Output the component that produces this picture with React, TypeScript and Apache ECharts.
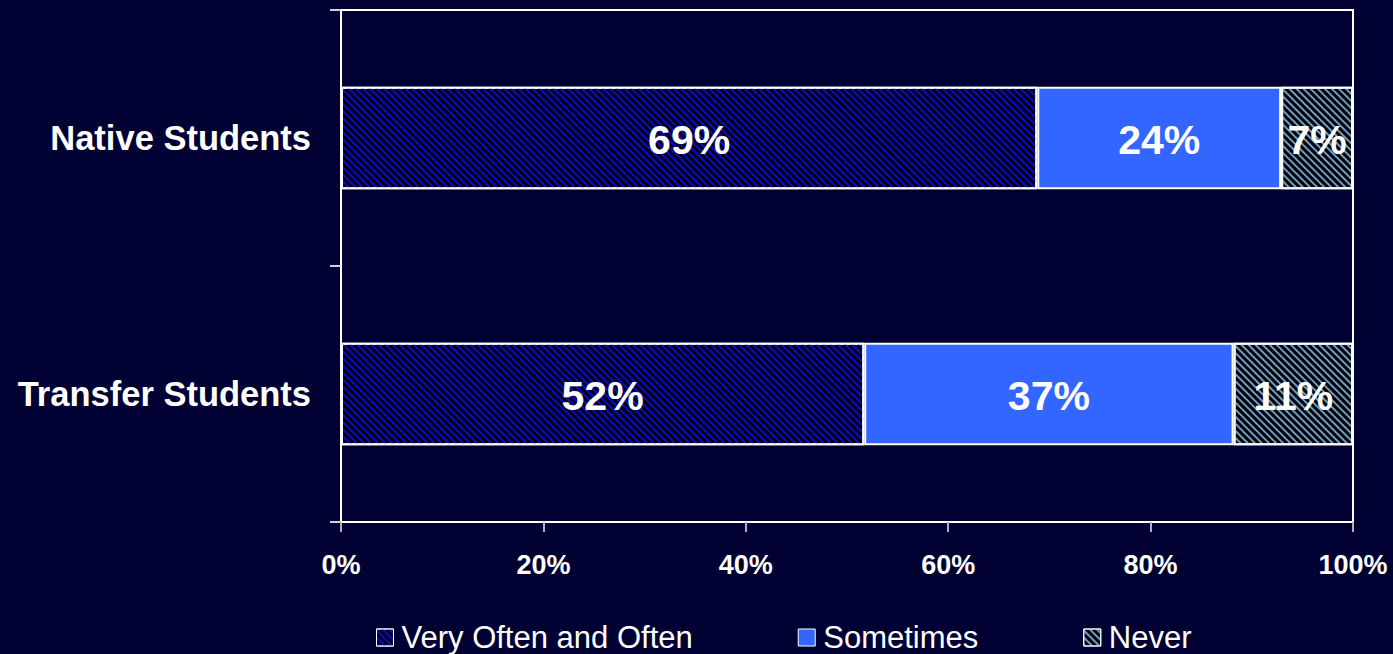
import React, { useEffect, useRef } from "react";
import * as echarts from "echarts";

const categories = ["Native Students", "Transfer Students"];
const seriesNames = ["Very Often and Often", "Sometimes", "Never"];
// measured segment widths (percent of row)
const veryOften = [68.8, 51.7];
const sometimes = [24.1, 36.5];
const never = [7.1, 11.8];
// printed labels
const veryOftenLabels = ["69%", "52%"];
const sometimesLabels = ["24%", "37%"];
const neverLabels = ["7%", "11%"];
const xTicks = [0, 20, 40, 60, 80, 100];

const BG = "#000033";
const FONT = "Arial, 'Liberation Sans', Helvetica, sans-serif";

export default function App() {
  const ref = useRef<HTMLDivElement>(null);
  useEffect(() => {
    if (!ref.current) return;
    const chart = echarts.init(ref.current, undefined, { renderer: "svg" });
    const mkLabel = (labels: string[]) => ({
      show: true,
      position: "inside",
      color: "#ffffff",
      fontFamily: FONT,
      fontWeight: "bold",
      fontSize: 41,
      offset: [0, 2],
      formatter: (p: any) => labels[p.dataIndex],
    });
    const stripe = (color: string, gap: number) => ({
      symbol: "rect",
      symbolSize: 1,
      color,
      dashArrayX: [1, 0],
      dashArrayY: [2, gap],
      rotation: Math.PI / 4,
    });
    const voStyle = {
      color: "#000010",
      borderColor: "#ffffff",
      borderWidth: 2,
      decal: stripe("#0a0ad0", 3),
    };
    const sStyle = { color: "#3366ff", borderColor: "#ffffff", borderWidth: 2 };
    const nStyle = {
      color: "#000000",
      borderColor: "#ffffff",
      borderWidth: 2,
      decal: stripe("#6d9cc6", 3),
    };
    chart.setOption({
      animation: false,
      backgroundColor: BG,
      grid: {
        left: 341,
        right: 40,
        top: 10,
        bottom: 132,
        show: true,
        borderColor: "#ffffff",
        borderWidth: 2,
        backgroundColor: "transparent",
      },
      legend: {
        left: 371,
        bottom: -4,
        icon: "rect",
        itemWidth: 17,
        itemHeight: 17,
        itemGap: 105,
        textStyle: {
          color: "#ffffff",
          fontFamily: FONT,
          fontSize: 31,
          padding: [0, 0, 0, 3],
        },
        data: [
          { name: seriesNames[0], itemStyle: { ...voStyle, borderWidth: 1 } },
          { name: seriesNames[1], itemStyle: { ...sStyle, borderWidth: 1 } },
          { name: seriesNames[2], itemStyle: { ...nStyle, borderWidth: 1 } },
        ],
      },
      xAxis: {
        type: "value",
        min: 0,
        max: 100,
        interval: 20,
        axisLine: { show: true, lineStyle: { color: "#ffffff", width: 2 } },
        axisTick: { show: true, length: 10, lineStyle: { color: "#b0b0c0", width: 2 } },
        splitLine: { show: false },
        axisLabel: {
          color: "#ffffff",
          fontFamily: FONT,
          fontWeight: "bold",
          fontSize: 27,
          margin: 29,
          formatter: (v: number) => (xTicks.includes(v) ? v + "%" : ""),
        },
      },
      yAxis: {
        type: "category",
        inverse: true,
        data: categories,
        axisLine: { show: true, lineStyle: { color: "#ffffff", width: 2 } },
        axisTick: { show: true, length: 11, lineStyle: { color: "#d0d0e0", width: 2 } },
        axisLabel: {
          color: "#ffffff",
          fontFamily: FONT,
          fontWeight: "bold",
          fontSize: 34.5,
          margin: 30,
        },
      },
      series: [
        {
          name: seriesNames[0],
          type: "bar",
          stack: "total",
          barWidth: "40%",
          data: veryOften,
          itemStyle: voStyle,
          label: mkLabel(veryOftenLabels),
        },
        {
          name: seriesNames[1],
          type: "bar",
          stack: "total",
          data: sometimes,
          itemStyle: sStyle,
          label: mkLabel(sometimesLabels),
        },
        {
          name: seriesNames[2],
          type: "bar",
          stack: "total",
          data: never,
          itemStyle: nStyle,
          label: mkLabel(neverLabels),
        },
      ],
    });
    return () => chart.dispose();
  }, []);
  return (
    <div
      ref={ref}
      style={{ position: "fixed", left: 0, top: 0, width: 1393, height: 654, background: BG }}
    />
  );
}
